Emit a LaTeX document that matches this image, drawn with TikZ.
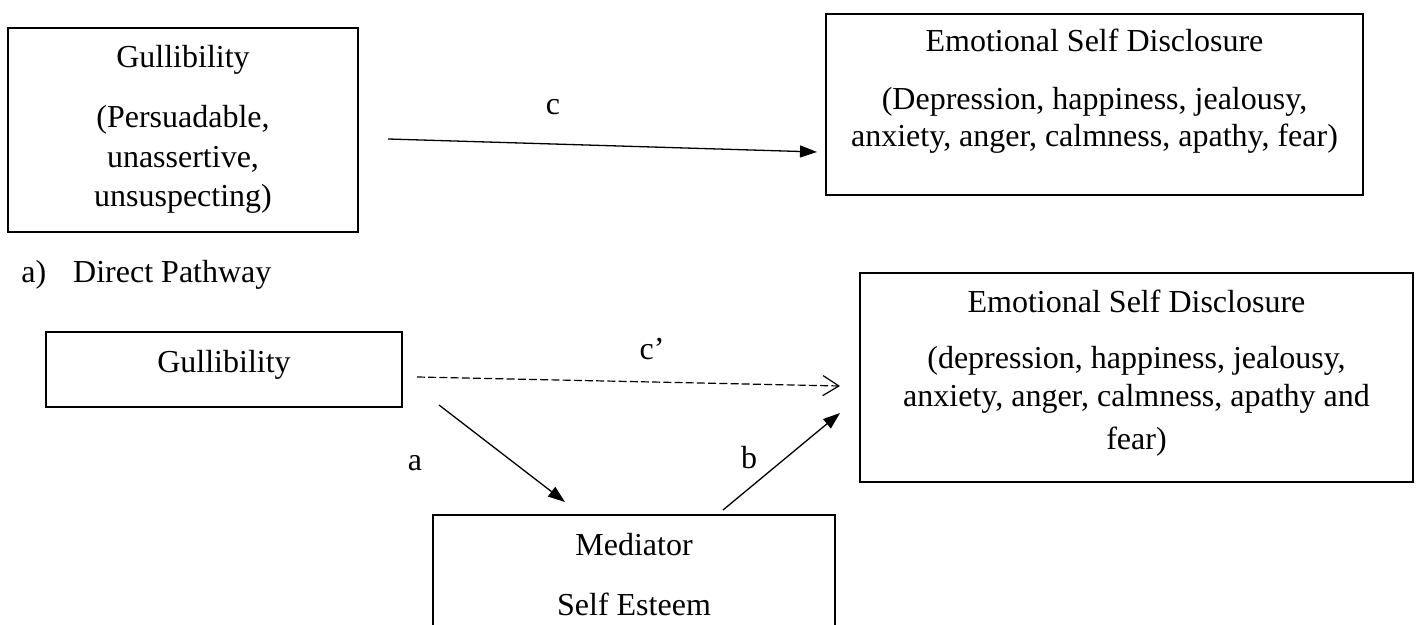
\documentclass[tikz,border=0pt]{standalone}
\usepackage{fontspec}
\setmainfont{Liberation Serif}
\usetikzlibrary{arrows.meta}
\begin{document}
\begin{tikzpicture}[x=0.5pt,y=-0.5pt,
  every node/.style={font=\fontsize{16}{19}\selectfont, inner sep=0pt},
  boxnode/.style={draw, line width=1.3pt, inner sep=0pt},
  txt/.style={anchor=base},
  solidarrow/.style={line width=0.65pt, -{Triangle[length=8.5pt,width=6pt]}},
  dasharrow/.style={line width=0.6pt, dash pattern=on 4pt off 1.6pt, -{Straight Barb[length=8pt,width=10pt]}}]
\clip (0,0) rectangle (1418,625);
% top: direct pathway
\node[boxnode, minimum width=175pt, minimum height=102pt] (g1) at (183,130) {};
\node[txt] (g1a) at (183,68) {Gullibility};
\node[txt] (g1b) at (183,128) {(Persuadable,};
\node[txt] (g1c) at (183,168) {unassertive,};
\node[txt] (g1d) at (183,207) {unsuspecting)};
\node[boxnode, minimum width=268.5pt, minimum height=90.5pt] (e1) at (1094.5,104.5) {};
\node[txt] (e1a) at (1094.5,52) {Emotional Self Disclosure};
\node[txt] (e1b) at (1094.5,110) {(Depression, happiness, jealousy,};
\node[txt] (e1c) at (1094.5,147) {anxiety, anger, calmness, apathy, fear)};
\coordinate (cS) at (388,139);
\coordinate (cE) at (817,152);
\draw[solidarrow] (cS) -- (cE);
\node[txt] (lc) at (553,115) {c};
\node[anchor=base west] (cap) at (21,283) {a)\hspace{13.5pt}Direct Pathway};
% bottom: mediated pathway
\node[boxnode, minimum width=178pt, minimum height=37.5pt] (g2) at (224,369.5) {};
\node[txt] (g2a) at (224,372) {Gullibility};
\node[boxnode, minimum width=276.5pt, minimum height=104.5pt] (e2) at (1136.5,377.5) {};
\node[txt] (e2a) at (1136.5,312.5) {Emotional Self Disclosure};
\node[txt] (e2b) at (1136.5,369) {(depression, happiness, jealousy,};
\node[txt] (e2c) at (1136.5,407) {anxiety, anger, calmness, apathy and};
\node[txt] (e2d) at (1136.5,450) {fear)};
\node[boxnode, minimum width=201pt, minimum height=80pt] (m) at (634,595) {};
\node[txt] (ma) at (634,555) {Mediator};
\node[txt] (mb) at (634,615) {Self Esteem};
\coordinate (dS) at (417,377);
\coordinate (dE) at (840,386);
\draw[dasharrow] (dS) -- (dE);
\node[txt] (lcp) at (652,360) {c’};
\coordinate (aS) at (439,405);
\coordinate (aE) at (565,502);
\draw[solidarrow] (aS) -- (aE);
\node[txt] (la) at (415,470) {a};
\coordinate (bS) at (723,510);
\coordinate (bE) at (840,413);
\draw[solidarrow] (bS) -- (bE);
\node[txt] (lb) at (749,468) {b};
\end{tikzpicture}
\end{document}
